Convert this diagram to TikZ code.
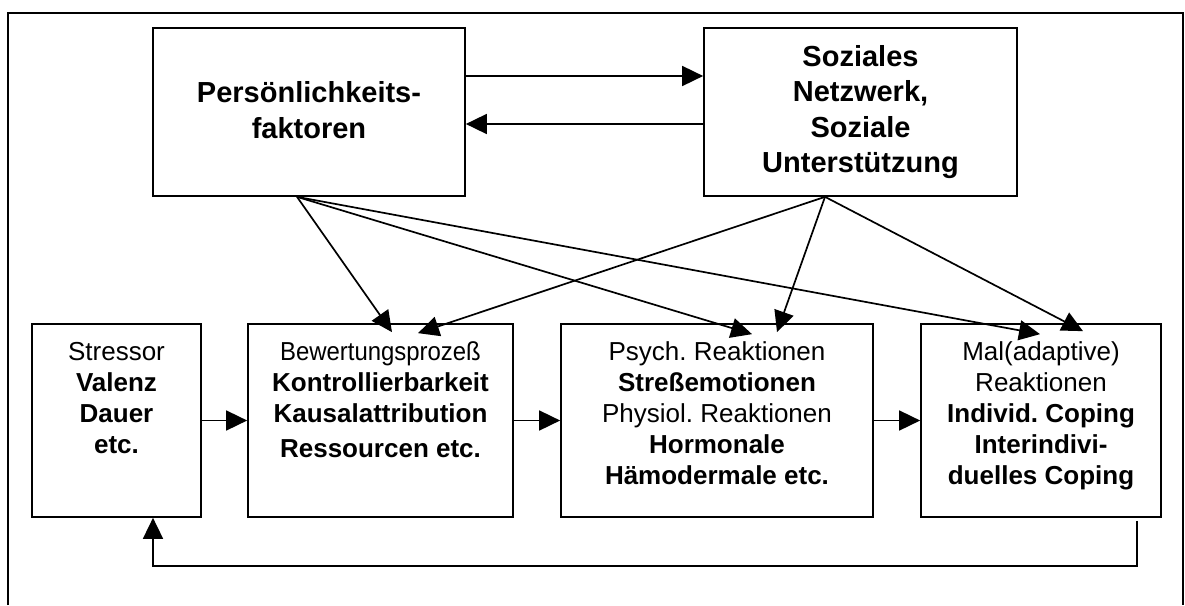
\documentclass[tikz,border=0pt]{standalone}
\usepackage{fontspec}
\setmainfont{Liberation Sans}
\usetikzlibrary{arrows.meta}
\frenchspacing
\begin{document}
\begin{tikzpicture}[x=1pt,y=-1pt,line width=1.7pt,
  box/.style={draw,rectangle,inner sep=0pt},
  lbl/.style={align=center,inner sep=0pt,anchor=north,font=\fontsize{26}{31}\selectfont\frenchspacing},
  toplbl/.style={align=center,inner sep=0pt,anchor=north,font=\fontsize{29}{35.5}\selectfont\bfseries},
  arr/.style={-{Triangle[length=21pt,width=20pt]}}]
\useasboundingbox (0,0) rectangle (1185,605);
% outer frame (open at the bottom)
\draw (8,605) -- (8,13) -- (1183,13) -- (1183,605);
% top boxes
\node[box,minimum width=312pt,minimum height=168pt] (pers) at (309,112) {};
\node[box,minimum width=313pt,minimum height=168pt] (soz) at (860.5,112) {};
\node[toplbl] (perst) at (309,77.2) {\strut Persönlichkeits-\\\strut faktoren};
\node[toplbl] (sozt) at (860.5,40.5) {\strut Soziales\\\strut Netzwerk,\\\strut Soziale\\\strut Unterstützung};
% bottom boxes
\node[box,minimum width=169pt,minimum height=193pt] (stress) at (116.5,420.5) {};
\node[box,minimum width=265pt,minimum height=193pt] (bew) at (380.5,420.5) {};
\node[box,minimum width=312pt,minimum height=193pt] (psych) at (717,420.5) {};
\node[box,minimum width=240pt,minimum height=193pt] (mal) at (1041,420.5) {};
\node[lbl] (stresst) at (116.5,338.3) {\strut Stressor\\\strut\textbf{Valenz}\\\strut\textbf{Dauer}\\\strut\textbf{etc.}};
\node[lbl] (bewt) at (380.5,338.3) {\strut\scalebox{0.92}[1]{Bewertungsprozeß}\\\strut\textbf{Kontrollierbarkeit}\\\strut\textbf{Kausalattribution}\\[4pt]\strut\textbf{Ressourcen etc.}};
\node[lbl] (psycht) at (717,338.3) {\strut Psych. Reaktionen\\\strut\textbf{Streßemotionen}\\\strut Physiol. Reaktionen\\\strut\textbf{Hormonale}\\\strut\textbf{Hämodermale etc.}};
\node[lbl] (malt) at (1041,338.3) {\strut Mal(adaptive)\\\strut Reaktionen\\\strut\textbf{Individ. Coping}\\\strut\textbf{Interindivi-}\\\strut\textbf{duelles Coping}};
% top connectors
\draw[arr] ([yshift=36pt]pers.east) -- ([yshift=36pt]soz.west);
\draw[arr] ([yshift=-12pt]soz.west) -- ([yshift=-12pt]pers.east);
% horizontal chain
\draw[arr] (stress) -- (bew);
\draw[arr] (bew) -- (psych);
\draw[arr] (psych) -- (mal);
% diagonals
\coordinate (po) at ([xshift=-12pt]pers.south);
\coordinate (so) at ([xshift=-35.5pt]soz.south);
\draw[arr] (po) -- ([xshift=11.5pt,yshift=-9pt]bew.north);
\draw[arr] (po) -- ([xshift=35pt,yshift=-11pt]psych.north);
\draw[arr] (po) -- ([xshift=-1pt,yshift=-11pt]mal.north);
\draw[arr] (so) -- ([xshift=37.5pt,yshift=-10pt]bew.north);
\draw[arr] (so) -- ([xshift=60pt,yshift=-9pt]psych.north);
\draw[arr] (so) -- ([xshift=42pt,yshift=-8pt]mal.north);
% feedback loop
\draw[arr] ([xshift=96pt,yshift=-3pt]mal.south) -- ++(0,45) -| ([xshift=36.5pt]stress.south);
\end{tikzpicture}
\end{document}
